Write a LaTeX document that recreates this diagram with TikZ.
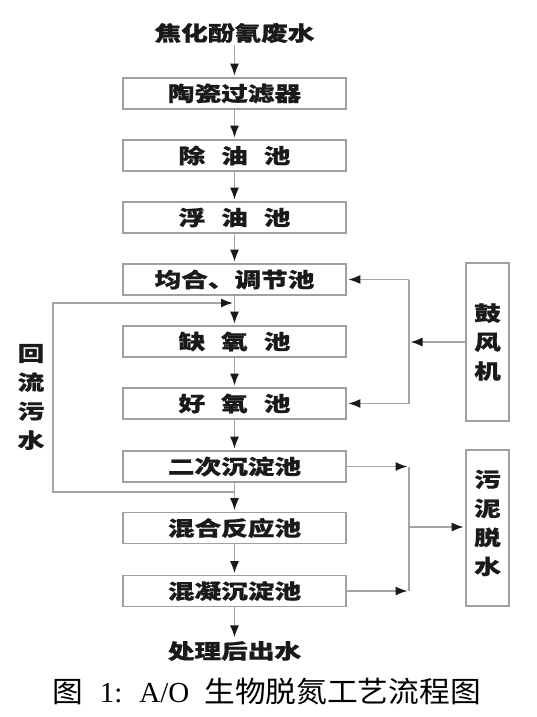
\documentclass[tikz,border=0pt]{standalone}
\usepackage{fontspec}
\setmainfont{Liberation Serif}
\newfontfamily\cjk{Noto Sans CJK SC}[FakeStretch=1.3, BoldFeatures={FakeBold=0.8}]
\newfontfamily\capcjk{Noto Sans CJK SC}[FakeStretch=1.06]
\usetikzlibrary{arrows.meta}
\definecolor{lc}{HTML}{A4A4A4}
\definecolor{bc}{HTML}{A0A0A0}
\definecolor{tc}{HTML}{1A1A1A}
\tikzset{
  boxtxt/.style={font=\cjk\bfseries\fontsize{20.5}{29}\selectfont, text=tc},
  pbox/.style={boxtxt, draw=bc, line width=1.6pt, minimum width=223pt, minimum height=31pt, inner sep=0pt},
  rbox/.style={draw=bc, line width=1.6pt, minimum width=43pt, inner sep=0pt},
  ln/.style={draw=lc, line width=1.6pt},
  arr/.style={ln, -{Latex[length=12pt,width=9pt,color=black!90]}, shorten >=1.5pt}
}
\begin{document}
\begin{tikzpicture}[x=1pt,y=-1pt]
\useasboundingbox (0,0) rectangle (536,717);
% main chain
\node[boxtxt, inner sep=2pt] (top) at (234.5,33) {焦化酚氰废水};
\node[pbox] (b1) at (234.5,93.5) {陶瓷过滤器};
\node[pbox] (b2) at (234.5,155.5) {除\kern16pt 油\kern16pt 池};
\node[pbox] (b3) at (234.5,217.5) {浮\kern16pt 油\kern16pt 池};
\node[pbox] (b4) at (234.5,279.5) {均合、调节池};
\node[pbox] (b5) at (234.5,341.5) {缺\kern16pt 氧\kern16pt 池};
\node[pbox] (b6) at (234.5,403.5) {好\kern16pt 氧\kern16pt 池};
\node[pbox] (b7) at (234.5,466.5) {二次沉淀池};
\node[pbox] (b8) at (234.5,528) {混合反应池};
\node[pbox] (b9) at (234.5,591) {混凝沉淀池};
\node[boxtxt, inner sep=2pt] (out) at (234.5,651) {处理后出水};
\draw[arr] (top) -- (b1);
\draw[arr] (b1) -- (b2);
\draw[arr] (b2) -- (b3);
\draw[arr] (b3) -- (b4);
\draw[arr] (b4) -- (b5);
\draw[arr] (b5) -- (b6);
\draw[arr] (b6) -- (b7);
\draw[arr] (b7) -- (b8);
\draw[arr] (b8) -- (b9);
\draw[arr] (b9) -- (out);
% return flow
\coordinate (r1) at (234.5,492);
\coordinate (r2) at (234.5,303);
\draw[arr] (r1) -- (53,492) |- (r2);
\node[boxtxt, align=center, inner sep=0pt] (lbl) at (31,397) {回\\流\\污\\水};
% blower
\node[rbox, minimum height=158pt, boxtxt, align=center] (blower) at (487.5,342) {鼓\\风\\机};
\coordinate (jb) at (409,342);
\draw[arr] (blower.west) -- (jb);
\draw[ln] (b4.east -| jb) -- (b6.east -| jb);
\draw[arr] (b4.east -| jb) -- (b4.east);
\draw[arr] (b6.east -| jb) -- (b6.east);
% sludge
\node[rbox, minimum height=156pt] (sludge) at (487.5,528) {};
\node[boxtxt, align=center, inner sep=0pt] (sltxt) at (487.5,523) {污\\泥\\脱\\水};
\coordinate (js) at (409,527);
\draw[ln] (b7.east -| js) -- (b9.east -| js);
\draw[arr] (b7.east) -- (b7.east -| js);
\draw[arr] (b9.east) -- (b9.east -| js);
\draw[arr] (js) -- (js -| sludge.west);
% caption
\node[font=\fontsize{29}{32}\selectfont, inner sep=0pt] (cap) at (266.5,692) {{\capcjk 图}\hspace{17pt}1:\hspace{17pt}A/O\hspace{15pt}{\capcjk 生物脱氮工艺流程图}};
\end{tikzpicture}
\end{document}
